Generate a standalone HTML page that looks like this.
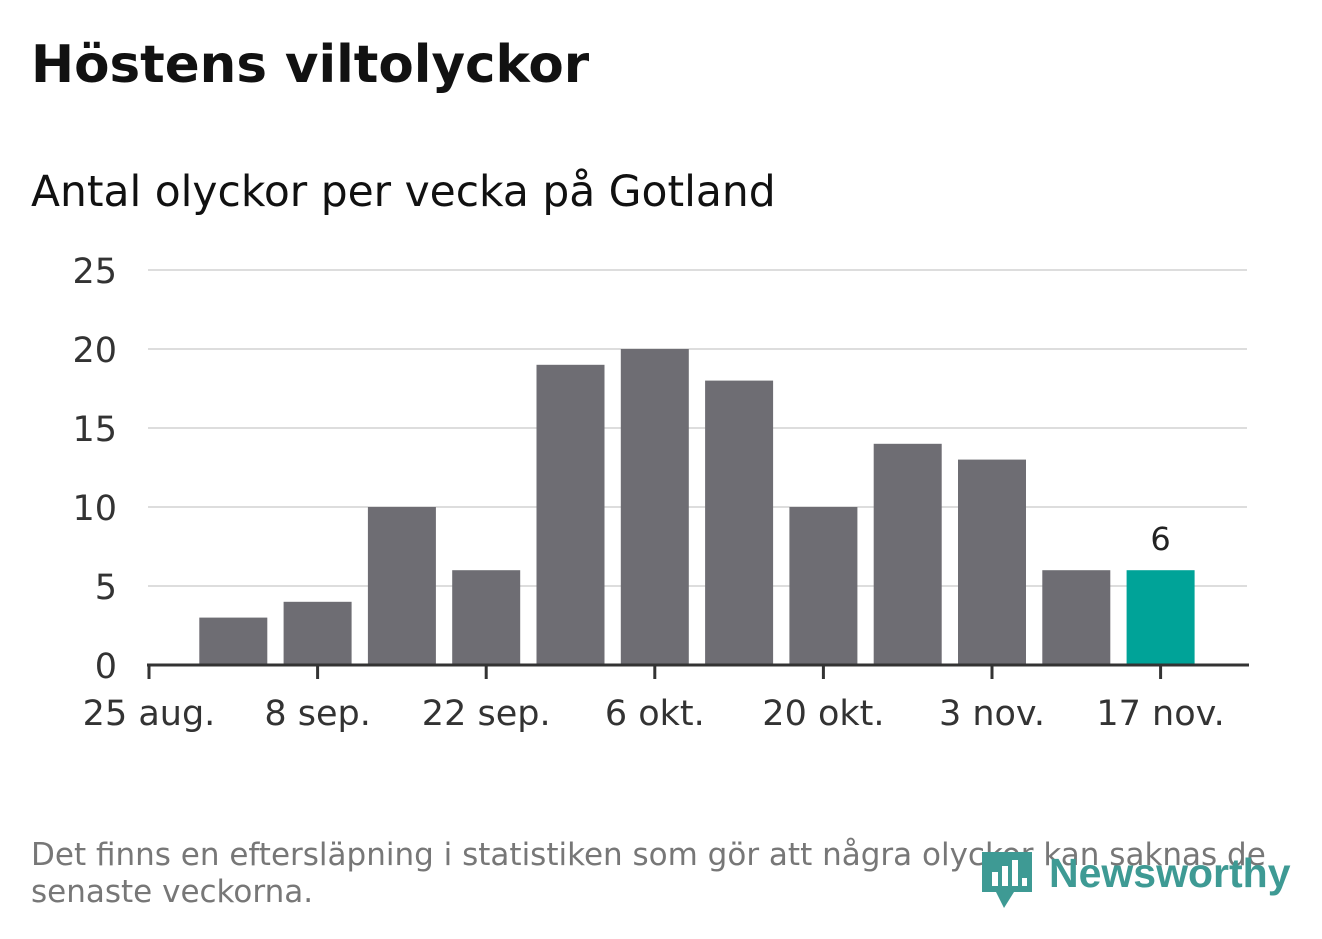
<!DOCTYPE html>
<html><head><meta charset="utf-8"><style>
body{margin:0;background:#fff;width:1322px;height:939px;overflow:hidden;font-family:"DejaVu Sans","Liberation Sans",sans-serif;position:relative}
.t{position:absolute;white-space:nowrap}
</style></head><body>
<div class="t" style="left:31px;top:35px;font-size:51.5px;font-weight:bold;color:#111">Höstens viltolyckor</div>
<div class="t" style="left:31px;top:167px;font-size:42.4px;color:#111">Antal olyckor per vecka på Gotland</div>
<svg id="chart" width="1322" height="939" style="position:absolute;left:0;top:0"></svg>
<div class="t" style="left:31px;top:837px;font-size:31px;color:#777;line-height:37px">Det finns en eftersläpning i statistiken som gör att några olyckor kan saknas de<br>senaste veckorna.</div>
<div style="position:absolute;left:982px;top:852px;">
<svg width="52" height="58"><path d="M0 0H50V40H32L22 56L14 40H0Z" fill="#3e9a94"/><rect x="10" y="20" width="6" height="14" fill="#fff"/><rect x="20" y="14" width="6" height="20" fill="#fff"/><rect x="30" y="8" width="6" height="26" fill="#fff"/><rect x="40" y="26" width="5" height="8" fill="#fff"/></svg>
<div class="t" style="left:67px;top:-2px;font-size:41px;font-family:'Liberation Sans',sans-serif;font-weight:bold;color:#3e9a94">Newsworthy</div>
</div>
<script>
const categories=["1 sep","8 sep","15 sep","22 sep","29 sep","6 okt","13 okt","20 okt","27 okt","3 nov","10 nov","17 nov"];
const values=[3,4,10,6,19,20,18,10,14,13,6,6];
const yTicks=[0,5,10,15,20,25];
const xTickLabels=["25 aug.","8 sep.","22 sep.","6 okt.","20 okt.","3 nov.","17 nov."];
const NS="http://www.w3.org/2000/svg",svg=document.getElementById("chart");
const x0=149,week=84.3,y0=665,pxPerUnit=15.8;
const xs=i=>x0+week*i; const ys=v=>y0-v*pxPerUnit;
function mk(tag,attrs){const e=document.createElementNS(NS,tag);for(const k in attrs)e.setAttribute(k,attrs[k]);svg.appendChild(e);return e;}
yTicks.forEach(t=>{
 if(t>0){const g=mk("line",{x1:148,x2:1247,y1:ys(t),y2:ys(t),stroke:"#ddd","stroke-width":2});
 
 }
 const l=mk("text",{x:117,y:ys(t)+13,"text-anchor":"end","font-size":35,fill:"#333","font-family":"DejaVu Sans,Liberation Sans,sans-serif"});l.textContent=t;
 
 
});
values.forEach((v,i)=>{
 const cx=xs(i+1);const last=i===values.length-1;
 const r=mk("rect",{x:cx-34,y:ys(v),width:68,height:v*pxPerUnit,fill:last?"#00a398":"#6e6d73"});
 
 
 if(last){const t=mk("text",{x:cx,y:ys(v)-20,"text-anchor":"middle","font-size":32,fill:"#222","font-family":"DejaVu Sans,Liberation Sans,sans-serif"});t.textContent=v;
 
 }
});
const ax=mk("line",{x1:147,x2:1249,y1:y0,y2:y0,stroke:"#333","stroke-width":3});


xTickLabels.forEach((s,i)=>{
 const x=xs(i*2);
 const tk=mk("line",{x1:x,x2:x,y1:y0,y2:y0+14,stroke:"#333","stroke-width":3});
 
 
 const l=mk("text",{x:x,y:725,"text-anchor":"middle","font-size":35,fill:"#333","font-family":"DejaVu Sans,Liberation Sans,sans-serif"});l.textContent=s;
 
 
});
</script>
</body></html>
